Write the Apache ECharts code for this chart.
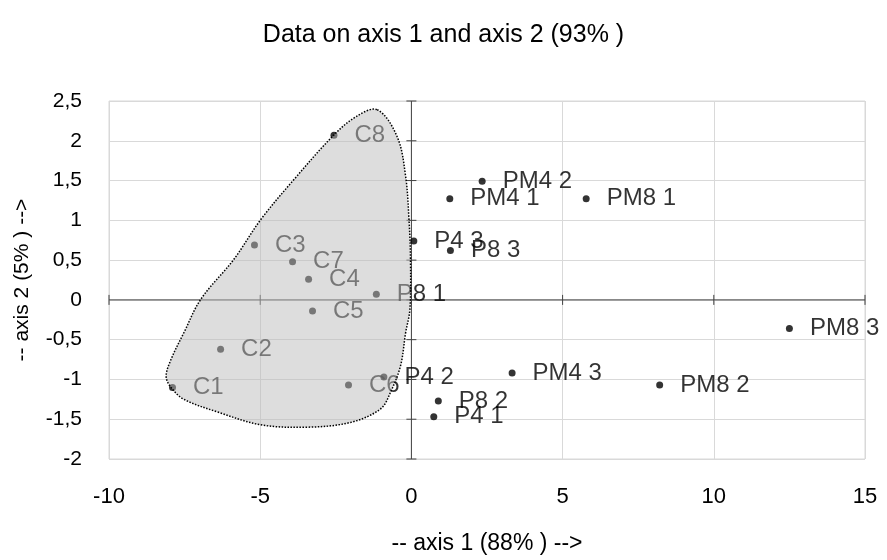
<!DOCTYPE html>
<html>
<head>
<meta charset="utf-8">
<script src="https://cdn.jsdelivr.net/npm/echarts@6/dist/echarts.min.js"></script>
<style>
  html, body { margin: 0; padding: 0; background: #fff; }
  #chart { width: 887px; height: 560px; }
</style>
</head>
<body>
<div id="chart"></div>
<script>
// Observation labels and their scores on the first two factorial axes
const names = ['C1', 'C2', 'C3', 'C4', 'C5', 'C6', 'C7', 'C8',
  'P4 1', 'P4 2', 'P4 3', 'P8 1', 'P8 2', 'P8 3',
  'PM4 1', 'PM4 2', 'PM4 3', 'PM8 1', 'PM8 2', 'PM8 3'];
const axis1 = [-7.90, -6.31, -5.19, -3.40, -3.27, -2.08, -3.93, -2.56,
  0.74, -0.91, 0.08, -1.16, 0.89, 1.29,
  1.27, 2.34, 3.33, 5.78, 8.21, 12.50];
const axis2 = [-1.10, -0.62, 0.69, 0.26, -0.14, -1.07, 0.48, 2.07,
  -1.47, -0.97, 0.74, 0.07, -1.27, 0.62,
  1.27, 1.49, -0.92, 1.27, -1.07, -0.36];

// Outline of the group enclosing the C observations (axis units)
const groupX = [-1.13, -0.47, -0.19, -0.08, -0.03, -0.05, -0.19, -0.36, -0.69, -1.02,
  -2.01, -3.43, -4.98, -6.40, -7.52, -7.95, -8.11, -7.95, -7.52, -6.96,
  -5.87, -4.98, -3.89, -2.57, -1.84];
const groupY = [2.39, 2.05, 1.55, 1.01, 0.51, -0.12, -0.41, -0.83, -1.16, -1.37,
  -1.54, -1.60, -1.57, -1.41, -1.25, -1.10, -0.96, -0.75, -0.41, 0.01,
  0.51, 1.01, 1.51, 2.07, 2.30];

// Axis ranges and tick steps
const xMin = -10, xMax = 15, xStep = 5;
const yMin = -2, yMax = 2.5, yStep = 0.5;

const FONT = '"Liberation Sans", Arial, sans-serif';
const comma = v => String(v).replace('.', ',');

const points = names.map((n, i) => ({ name: n, value: [axis1[i], axis2[i]] }));

const xTicks = [];
for (let v = xMin; v <= xMax + 1e-9; v += xStep) xTicks.push(v);
const yTicks = [];
for (let v = yMin; v <= yMax + 1e-9; v += yStep) yTicks.push(Math.round(v * 10) / 10);

const chart = echarts.init(document.getElementById('chart'), null, { renderer: 'canvas' });

chart.setOption({
  animation: false,
  backgroundColor: '#ffffff',
  title: {
    text: 'Data on axis 1 and axis 2 (93% )',
    left: 'center',
    top: 18,
    textStyle: { fontFamily: FONT, fontSize: 25, fontWeight: 'normal', color: '#000' }
  },
  grid: { left: 109, right: 22, top: 101, bottom: 100 },
  xAxis: {
    type: 'value',
    min: xMin, max: xMax, interval: xStep,
    name: '-- axis 1 (88% ) -->',
    nameLocation: 'middle',
    nameGap: 73,
    nameTextStyle: { fontFamily: FONT, fontSize: 23, color: '#000' },
    axisLine: { show: false },
    axisTick: { show: false },
    axisLabel: { fontFamily: FONT, fontSize: 22, color: '#000', margin: 27, formatter: comma },
    splitLine: { show: true, lineStyle: { color: '#d9d9d9', width: 1 } }
  },
  yAxis: {
    type: 'value',
    min: yMin, max: yMax, interval: yStep,
    name: '-- axis 2 (5% ) -->',
    nameLocation: 'middle',
    nameGap: 76,
    nameTextStyle: { fontFamily: FONT, fontSize: 21, color: '#000' },
    axisLine: { show: false },
    axisTick: { show: false },
    axisLabel: { fontFamily: FONT, fontSize: 21, color: '#000', margin: 27, formatter: comma },
    splitLine: { show: true, lineStyle: { color: '#d9d9d9', width: 1 } }
  },
  series: [
    {
      // plot frame, drawn as light gridlines
      type: 'custom',
      silent: true,
      z: 1,
      data: [[0, 0]],
      renderItem: (params, api) => {
        const tl = api.coord([xMin, yMax]);
        const br = api.coord([xMax, yMin]);
        return {
          type: 'rect',
          shape: { x: tl[0], y: tl[1], width: br[0] - tl[0], height: br[1] - tl[1] },
          style: { fill: 'none', stroke: '#d9d9d9', lineWidth: 1 }
        };
      }
    },
    {
      // axes crossing at the origin, with ticks across the line
      type: 'custom',
      silent: true,
      clip: false,
      z: 2,
      data: [[0, 0]],
      renderItem: (params, api) => {
        const stroke = { stroke: '#404040', lineWidth: 1 };
        const children = [];
        const a = api.coord([xMin, 0]), b = api.coord([xMax, 0]);
        children.push({ type: 'line', shape: { x1: a[0], y1: a[1], x2: b[0], y2: b[1] }, style: stroke });
        const c = api.coord([0, yMin]), d = api.coord([0, yMax]);
        children.push({ type: 'line', shape: { x1: c[0], y1: c[1], x2: d[0], y2: d[1] }, style: stroke });
        xTicks.forEach(t => {
          const p = api.coord([t, 0]);
          children.push({ type: 'line', shape: { x1: p[0], y1: p[1] - 5, x2: p[0], y2: p[1] + 5 }, style: stroke });
        });
        yTicks.forEach(t => {
          const p = api.coord([0, t]);
          children.push({ type: 'line', shape: { x1: p[0] - 5, y1: p[1], x2: p[0] + 5, y2: p[1] }, style: stroke });
        });
        return { type: 'group', children };
      }
    },
    {
      type: 'scatter',
      z: 3,
      symbol: 'circle',
      symbolSize: 7,
      itemStyle: { color: '#000' },
      data: points,
      label: {
        show: true,
        position: 'right',
        distance: 17,
        formatter: '{b}',
        fontFamily: FONT,
        fontSize: 24,
        color: '#000'
      },
      emphasis: { disabled: true }
    },
    {
      // translucent group outline drawn over the points
      type: 'custom',
      silent: true,
      z: 10,
      data: [[0, 0]],
      renderItem: (params, api) => {
        const pts = groupX.map((x, i) => api.coord([x, groupY[i]]));
        return {
          type: 'polygon',
          shape: { points: pts, smooth: 0.35 },
          style: {
            fill: 'rgba(188,188,188,0.5)',
            stroke: '#000',
            lineWidth: 1.5,
            lineDash: [1.5, 1.5]
          }
        };
      }
    }
  ]
});
</script>
</body>
</html>
